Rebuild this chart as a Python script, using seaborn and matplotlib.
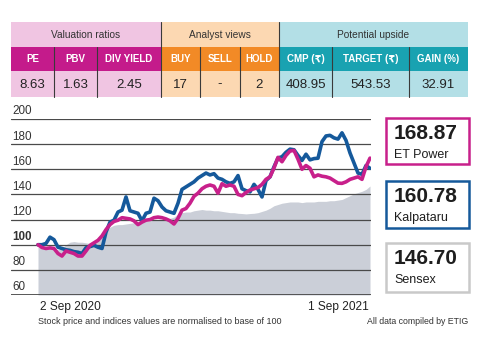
import numpy as np
import pandas as pd
import matplotlib
matplotlib.use("Agg")
import matplotlib.pyplot as plt
import seaborn as sns
from matplotlib.patches import Rectangle
from matplotlib.transforms import blended_transform_factory

# ---------------- data ----------------
groups = ["Valuation ratios", "Analyst views", "Potential upside"]
sub_headers = ["PE", "PBV", "DIV YIELD", "BUY", "SELL", "HOLD",
               "CMP (₹)", "TARGET (₹)", "GAIN (%)"]
table_values = ["8.63", "1.63", "2.45", "17", "-", "2",
                "408.95", "543.53", "32.91"]

et_power = [100, 97.8, 97, 97.5, 97, 93, 91, 95, 94, 93, 91, 91, 95, 99.5,
            101.5, 103.5, 107, 112, 116, 118.5, 119.5, 121.5, 121, 120.5,
            119, 116, 118, 119.5, 120, 121.5, 122, 121.5, 120.5, 119, 116.5,
            121, 127.5, 128.8, 133, 138.5, 141, 144.5, 146.5, 147.5, 146.5,
            141, 148.5, 146.5, 147.5, 146.5, 140, 139, 141.5, 143.5, 144.5,
            145.5, 148, 152, 154, 161, 169.5, 166, 171, 174.5, 175, 168,
            160, 163, 160.8, 154, 155.5, 154.5, 154, 153, 151, 149, 148.8,
            150, 152, 153, 154, 152, 162, 168.87]
kalpataru = [100, 100, 101, 106, 104, 98, 97, 96, 95.5, 94.5, 94, 93, 97.6,
             98.5, 99.5, 98, 97, 110, 118, 119.5, 126, 127.5, 138, 127, 126,
             125, 119, 125, 126, 137, 135, 130, 127, 126, 125, 133, 144, 146,
             148, 150, 153, 155, 157, 155.5, 156.5, 153, 152, 150, 148.8, 150,
             155, 144.5, 143, 142, 148, 144, 138, 151, 154, 162, 169, 170,
             173.5, 176, 175.5, 171, 167, 172, 167.5, 168.5, 168.8, 182,
             186.5, 187, 185, 184, 189, 183, 173, 165, 157, 156, 163, 160.78]
sensex = [98, 97.5, 97, 97.5, 96.5, 96, 97, 100, 102, 102.5, 102, 102, 101.5,
          101, 102, 104.5, 107, 111, 114, 115.5, 116, 116, 116.5, 117, 117.5,
          117.5, 118, 118.5, 119, 119.5, 119.5, 120, 120.5, 121, 122, 124.5,
          125.5, 126, 126, 127, 127.5, 128, 127.5, 127.5, 127, 127, 126.5,
          126, 125.5, 125.5, 125, 124.8, 124.5, 124.8, 125, 125.5, 126.5,
          127.5, 129, 131, 132, 133, 133.5, 134, 134, 134, 133.5, 134, 134,
          134, 134.5, 134.5, 134.5, 135, 135, 135.5, 136, 137.5, 139, 140.5,
          141.5, 142.5, 144, 146.70]

y_ticks = [60, 80, 100, 120, 140, 160, 180, 200]
start_label = "2 Sep 2020"
end_label = "1 Sep 2021"
legend_names = ["ET Power", "Kalpataru", "Sensex"]
footnote_left = "Stock price and indices values are normalised to base of 100"
footnote_right = "All data compiled by ETIG"

# ---------------- style ----------------
sns.set_theme(style="white")
plt.rcParams["font.family"] = ["Liberation Sans", "DejaVu Sans"]

MAGENTA = "#c8208b"
BLUE = "#15599b"
GREY_FILL = "#cbcfd8"
TXT = "#222222"

fig = plt.figure(figsize=(4.8, 3.6), dpi=100)
fig.patch.set_facecolor("white")

# overlay axes in pixel coordinates
ov = fig.add_axes([0, 0, 1, 1])
ov.set_xlim(0, 480)
ov.set_ylim(360, 0)
ov.set_axis_off()
ov.patch.set_alpha(0)

# ---------------- table ----------------
col_edges = [11, 54, 97, 161, 200, 240, 279, 332, 409, 468]
row_edges = [22, 47, 71, 97]
light = ["#f0c5e2", "#fcd8b2", "#b3dfe6"]
strong = ["#c41b8b", "#f28a26", "#19a2b1"]

for g in range(3):
    x0, x1 = col_edges[3 * g], col_edges[3 * g + 3]
    ov.add_patch(Rectangle((x0, row_edges[0]), x1 - x0, row_edges[1] - row_edges[0],
                           facecolor=light[g], edgecolor="none"))
    ov.text((x0 + x1) / 2, (row_edges[0] + row_edges[1]) / 2 + 0.5, groups[g],
            ha="center", va="center", fontsize=7.3, color="#333333")
for i in range(9):
    g = i // 3
    x0, x1 = col_edges[i], col_edges[i + 1]
    ov.add_patch(Rectangle((x0, row_edges[1]), x1 - x0, row_edges[2] - row_edges[1],
                           facecolor=strong[g], edgecolor="none"))
    ov.add_patch(Rectangle((x0, row_edges[2]), x1 - x0, row_edges[3] - row_edges[2],
                           facecolor=light[g], edgecolor="none"))
    ov.text((x0 + x1) / 2, (row_edges[1] + row_edges[2]) / 2 + 0.5, sub_headers[i],
            ha="center", va="center", fontsize=7, fontweight="bold", color="white")
    ov.text((x0 + x1) / 2, (row_edges[2] + row_edges[3]) / 2 + 0.5, table_values[i],
            ha="center", va="center", fontsize=9.5, color=TXT)
for j, xe in enumerate(col_edges[1:-1], start=1):
    top = row_edges[0] if j % 3 == 0 else row_edges[1]
    ov.plot([xe, xe], [top, row_edges[3]], color="#3a3a3a", lw=0.8)

# ---------------- chart ----------------
n = len(et_power)
idx = np.arange(n)
ax = fig.add_axes([11 / 480, 65 / 360, 360 / 480, 176 / 360])
ax.set_xlim(-6.75, n - 1 + 0.25)
ax.set_ylim(60, 200)
ax.set_axis_off()

ax.fill_between(idx, 60, sensex, color=GREY_FILL, lw=0, zorder=1)
for t in y_ticks:
    ax.axhline(t, color="#4a4a4a", lw=1.3 if t == 60 else 0.9, zorder=2)

long = pd.DataFrame({"idx": idx, "Kalpataru": kalpataru, "ET Power": et_power}) \
    .melt(id_vars="idx", var_name="series", value_name="value")
sns.lineplot(data=long, x="idx", y="value", hue="series",
             hue_order=["Kalpataru", "ET Power"],
             palette={"Kalpataru": BLUE, "ET Power": MAGENTA},
             linewidth=2.6, legend=False, ax=ax, zorder=3)

trans = blended_transform_factory(ax.transAxes, ax.transData)
for t in y_ticks:
    ax.text(1.5 / 360, t + 1.2, str(t), transform=trans, ha="left", va="bottom",
            fontsize=8.4, color="#333333",
            fontweight="bold" if t == 100 else "normal")

# x labels & footnotes
ov.text(40, 307, start_label, ha="left", va="center", fontsize=8.6, color=TXT)
ov.text(369, 307, end_label, ha="right", va="center", fontsize=8.6, color=TXT)
ov.text(38, 322, footnote_left, ha="left", va="center", fontsize=6.5, color="#333333")
ov.text(468, 322, footnote_right, ha="right", va="center", fontsize=6.3, color="#333333")

# ---------------- value boxes ----------------
box_y = [118, 181, 243]
box_h = [46, 47, 49]
box_colors = [MAGENTA, BLUE, "#c9c9c9"]
finals = [et_power[-1], kalpataru[-1], sensex[-1]]
for k in range(3):
    ov.add_patch(Rectangle((386, box_y[k]), 83, box_h[k], facecolor="white",
                           edgecolor=box_colors[k], lw=1.8))
    ov.text(394, box_y[k] + 21, f"{finals[k]:.2f}", ha="left", va="baseline",
            fontsize=15, fontweight="bold", color="#1e1e1e")
    ov.text(394, box_y[k] + 40, legend_names[k], ha="left", va="baseline",
            fontsize=9, color="#1e1e1e")

fig.savefig("out.png", dpi=100)
